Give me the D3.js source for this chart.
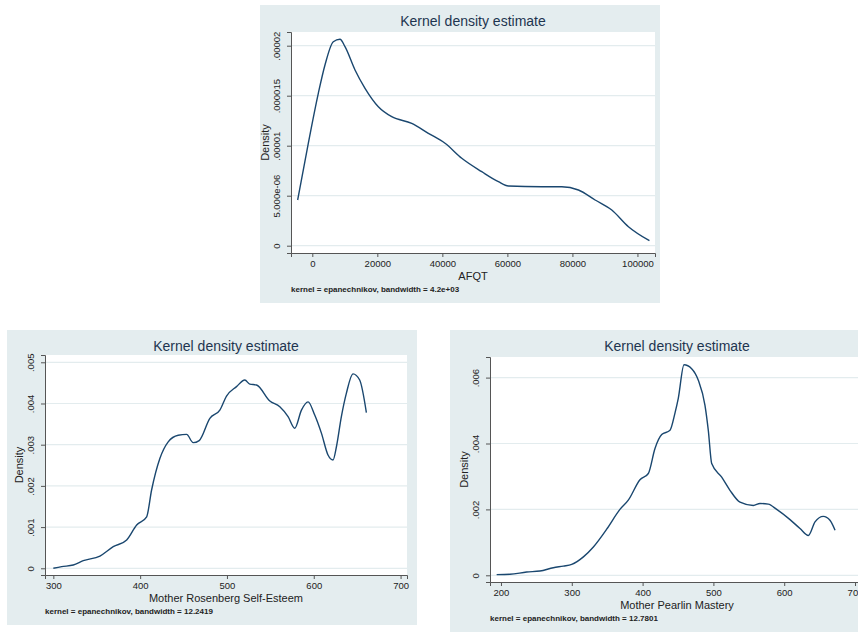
<!DOCTYPE html>
<html>
<head>
<meta charset="utf-8">
<script src="https://cdn.jsdelivr.net/npm/d3@7"></script>
<style>
  body { margin: 0; background: #ffffff; }
  svg { display: block; font-family: "Liberation Sans", Arial, sans-serif; }
</style>
</head>
<body>
<div id="chart"></div>
<script>
// AFQT density
const afqtX = [-4500, -1230, 1850, 3900, 6460, 8520, 10060, 13140, 16215, 20310, 24430, 30580,
  35700, 40830, 45970, 52120, 57230, 60310, 70580, 76730, 81850, 86980, 92110, 97230, 103690];
const afqtY = [4.57e-6, 1.024e-5, 1.524e-5, 1.807e-5, 2.04e-5, 2.064e-5, 1.99e-5, 1.757e-5, 1.574e-5,
  1.39e-5, 1.29e-5, 1.224e-5, 1.124e-5, 1.024e-5, 8.74e-6, 7.4e-6, 6.4e-6, 5.97e-6, 5.9e-6, 5.9e-6,
  5.57e-6, 4.57e-6, 3.57e-6, 1.9e-6, 0.5e-6];
const afqtXTicks = [0, 20000, 40000, 60000, 80000, 100000];
const afqtYTicks = [0, 5e-6, 1e-5, 1.5e-5, 2e-5];
const afqtYLabels = ["0", "5.000e-06", ".00001", ".000015", ".00002"];

// Mother Rosenberg Self-Esteem density
const roseX = [300, 309.6, 323, 334.5, 353.7, 369, 384.5, 396, 407.5, 413.2, 422.8, 432.3, 443.8,
  453.5, 461.1, 468, 480.3, 491.8, 499.5, 511, 520.6, 526.3, 534, 549.4, 560.9, 570.4, 578.1,
  585.8, 593.4, 601.1, 608.8, 616.4, 622.2, 626.1, 631.8, 637.6, 645.2, 652.9, 660.6];
const roseY = [0, 0.00004, 0.00008, 0.000184, 0.000298, 0.000524, 0.000687, 0.00105, 0.00125,
  0.0019, 0.00267, 0.00307, 0.00323, 0.00325, 0.00305, 0.0031, 0.00364, 0.00384, 0.00418,
  0.00441, 0.00457, 0.00447, 0.00445, 0.00406, 0.00392, 0.00368, 0.0034, 0.00384, 0.00404,
  0.00372, 0.00328, 0.00275, 0.00263, 0.00295, 0.00368, 0.00425, 0.00472, 0.00457, 0.00378];
const roseXTicks = [300, 400, 500, 600, 700];
const roseYTicks = [0, 0.001, 0.002, 0.003, 0.004, 0.005];
const roseYLabels = ["0", ".001", ".002", ".003", ".004", ".005"];

// Mother Pearlin Mastery density
const pearX = [193.9, 212.7, 236.3, 255, 273.9, 288, 299.9, 316.4, 330.5, 349.3, 368, 379.8,
  396.3, 408.1, 417.5, 427, 438.7, 445.8, 450.4, 458.5, 469.3, 478.7, 488.1, 492.8, 497.6,
  511.7, 523.4, 537.6, 556.4, 565.8, 577.5, 589.4, 608.2, 622.3, 634.1, 643.5, 655.2, 664.6, 671.8];
const pearY = [0.00002, 0.00003, 0.0001, 0.00013, 0.00023, 0.00028, 0.00033, 0.00056, 0.00086,
  0.0014, 0.002, 0.00228, 0.0029, 0.00309, 0.00385, 0.00427, 0.0044, 0.00493, 0.00537, 0.00639,
  0.00627, 0.00592, 0.00516, 0.0044, 0.00339, 0.00298, 0.00258, 0.00222, 0.00212, 0.00218,
  0.00216, 0.002, 0.00169, 0.00142, 0.00121, 0.00162, 0.00179, 0.00167, 0.00137];
const pearXTicks = [200, 300, 400, 500, 600, 700];
const pearYTicks = [0, 0.002, 0.004, 0.006];
const pearYLabels = ["0", ".002", ".004", ".006"];

const width = 858, height = 632;
const bg = "#e4edef", grid = "#e3ecee", lineColor = "#1a476f", titleColor = "#1e3550";

const svg = d3.select("#chart").append("svg")
  .attr("width", width)
  .attr("height", height);

function drawPanel(p) {
  const g = svg.append("g");

  g.append("rect")
    .attr("x", p.panel[0]).attr("y", p.panel[1])
    .attr("width", p.panel[2] - p.panel[0]).attr("height", p.panel[3] - p.panel[1])
    .attr("fill", bg);

  const x = d3.scaleLinear().domain(p.xDomain).range([p.plot[0], p.plot[2]]);
  const y = d3.scaleLinear().domain(p.yDomain).range([p.plot[3], p.plot[1]]);

  g.append("rect")
    .attr("x", p.plot[0]).attr("y", p.plot[1])
    .attr("width", p.plot[2] - p.plot[0]).attr("height", p.plot[3] - p.plot[1])
    .attr("fill", "#ffffff");

  // gridlines
  g.selectAll("line.grid")
    .data(p.yTicks)
    .enter()
    .append("line")
    .attr("class", "grid")
    .attr("x1", p.plot[0]).attr("x2", p.plot[2])
    .attr("y1", d => y(d)).attr("y2", d => y(d))
    .attr("stroke", grid)
    .attr("stroke-width", 1.2);

  // axes
  const xAxis = g.append("g")
    .attr("transform", `translate(0,${p.plot[3]})`)
    .call(d3.axisBottom(x).tickValues(p.xTicks).tickFormat(d3.format("d")).tickSize(4).tickPadding(2));
  const yAxis = g.append("g")
    .attr("transform", `translate(${p.plot[0]},0)`)
    .call(d3.axisLeft(y).tickValues(p.yTicks).tickFormat((d, i) => p.yLabels[i]).tickSize(4).tickPadding(3));

  [xAxis, yAxis].forEach(a => {
    a.select(".domain").attr("stroke", "#555").attr("stroke-width", 1);
    a.selectAll(".tick line").attr("stroke", "#555");
    a.selectAll("text").attr("fill", "#222").style("font-size", "9.5px");
  });
  yAxis.selectAll(".tick text")
    .attr("text-anchor", "middle")
    .attr("x", 0).attr("dy", 0)
    .attr("transform", "translate(-11,0) rotate(-90)");
  xAxis.selectAll(".tick text").attr("dy", "0.8em");

  // density curve
  const pts = p.xs.map((v, i) => [v, p.ys[i]]);
  g.append("path")
    .datum(pts)
    .attr("fill", "none")
    .attr("stroke", lineColor)
    .attr("stroke-width", 1.4)
    .attr("d", d3.line().x(d => x(d[0])).y(d => y(d[1])).curve(d3.curveMonotoneX));

  // titles
  const cx = (p.plot[0] + p.plot[2]) / 2;
  g.append("text")
    .attr("x", p.titleX || cx).attr("y", p.panel[1] + 21)
    .attr("text-anchor", "middle")
    .attr("fill", titleColor)
    .style("font-size", "14px")
    .text("Kernel density estimate");

  g.append("text")
    .attr("x", p.titleX || cx).attr("y", p.plot[3] + 27)
    .attr("text-anchor", "middle")
    .attr("fill", "#222")
    .style("font-size", "11px")
    .text(p.xTitle);

  g.append("text")
    .attr("transform", `translate(${p.plot[0] - 22},${(p.plot[1] + p.plot[3]) / 2}) rotate(-90)`)
    .attr("text-anchor", "middle")
    .attr("fill", "#222")
    .style("font-size", "11px")
    .text("Density");

  g.append("text")
    .attr("x", p.plot[0]).attr("y", p.plot[3] + 39)
    .attr("fill", "#222")
    .style("font-size", "8px")
    .style("font-weight", "bold")
    .text(p.note);
}

drawPanel({
  panel: [260, 5, 660, 303], plot: [291, 32, 655, 253],
  xDomain: [-6550, 105400], yDomain: [-0.73e-6, 2.137e-5],
  xs: afqtX, ys: afqtY, xTicks: afqtXTicks, yTicks: afqtYTicks, yLabels: afqtYLabels,
  xTitle: "AFQT", note: "kernel = epanechnikov, bandwidth = 4.2e+03"
});

drawPanel({
  panel: [7, 330, 417, 625], plot: [45, 355, 407, 575],
  xDomain: [290.4, 707.4], yDomain: [-0.000163, 0.005177],
  xs: roseX, ys: roseY, xTicks: roseXTicks, yTicks: roseYTicks, yLabels: roseYLabels,
  xTitle: "Mother Rosenberg Self-Esteem", note: "kernel = epanechnikov, bandwidth = 12.2419"
});

drawPanel({
  panel: [450, 330, 870, 640], plot: [490, 357, 866, 582],
  xDomain: [184.5, 715.5], yDomain: [-0.000203, 0.006625],
  xs: pearX, ys: pearY, xTicks: pearXTicks, yTicks: pearYTicks, yLabels: pearYLabels,
  titleX: 677,
  xTitle: "Mother Pearlin Mastery", note: "kernel = epanechnikov, bandwidth = 12.7801"
});
</script>
</body>
</html>
